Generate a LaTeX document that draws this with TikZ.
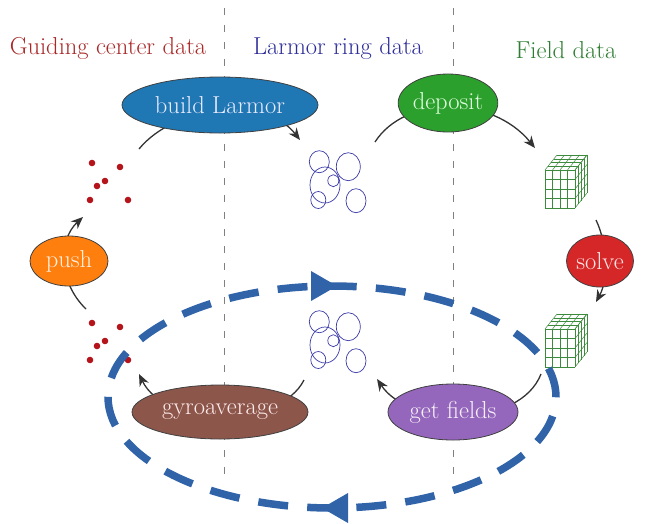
\documentclass[tikz,border=0pt]{standalone}
\usepackage{fontspec}
\usetikzlibrary{shapes.geometric,arrows.meta}
\definecolor{tred}{HTML}{A82828}
\definecolor{tblue}{HTML}{2E2E9A}
\definecolor{tgreen}{HTML}{2E7D32}
\definecolor{fblue}{HTML}{1F77B4}
\definecolor{fgreen}{HTML}{2CA02C}
\definecolor{fred}{HTML}{D62728}
\definecolor{forange}{HTML}{FF7F0E}
\definecolor{fbrown}{HTML}{8C564B}
\definecolor{fpurple}{HTML}{9467BD}
\definecolor{ringblue}{HTML}{3A3AA8}
\definecolor{dotred}{HTML}{B5141B}
\definecolor{cubegreen}{HTML}{3C8A3C}
\definecolor{loopblue}{HTML}{3063A8}
\tikzset{
  gridcube/.pic={
    \begin{scope}[cubegreen, line width=0.5pt]
    \foreach \i in {0,...,4} {
      \draw (\i*7.5,0) -- (\i*7.5,38);
      \draw (0,\i*9.5) -- (30,\i*9.5);
      \draw (\i*7.5,0) -- (\i*7.5+12,-15);
      \draw (\i*3,-\i*3.75) -- (30+\i*3,-\i*3.75);
      \draw (30+\i*3,-\i*3.75) -- (30+\i*3,38-\i*3.75);
      \draw (30,\i*9.5) -- (42,\i*9.5-15);
    }
    \end{scope}
  },
  ringset/.pic={
    \begin{scope}[ringblue, line width=0.7pt]
    \draw (-13.7,-16.3) ellipse [x radius=10pt, y radius=11pt];
    \draw (15.3,-11.3) ellipse [x radius=12pt, y radius=14pt];
    \draw (-8,7) ellipse [x radius=15pt, y radius=18pt];
    \draw (0.3,2.7) ellipse [x radius=5.5pt, y radius=6pt];
    \draw (-14.7,22) ellipse [x radius=7.5pt, y radius=8.5pt];
    \draw (23,22.7) ellipse [x radius=10pt, y radius=12pt];
    \end{scope}
  },
  dotset/.pic={
    \begin{scope}[dotred]
    \foreach \p in {(-16,-18),(12,-14),(-3,0),(-11,5),(-18,19),(20,19)}
      \fill \p circle [radius=3.3pt];
    \end{scope}
  }
}
\begin{document}
\begin{tikzpicture}[x=1pt,y=-1pt,
  proc/.style={ellipse, draw=black!75, line width=0.8pt, inner sep=0pt,
    font=\fontsize{24.5}{29}\selectfont},
  title/.style={font=\fontsize{24.5}{29}\selectfont, inner sep=0pt},
  conn/.style={draw=black!80, line width=1.3pt, -{Stealth[length=12pt,width=10pt]}},
  sep/.style={draw=black!50, line width=1pt, dash pattern=on 7pt off 10pt}]
\useasboundingbox (0,0) rectangle (645,523);

% separators
\coordinate (s1t) at (224,8); \coordinate (s1b) at (224,476);
\coordinate (s2t) at (453,8); \coordinate (s2b) at (453,476);
\draw[sep] (s1t) -- (s1b);
\draw[sep] (s2t) -- (s2b);

% titles
\node[title, text=tred] (tgc) at (108,48) {Guiding center data};
\node[title, text=tblue] (tlr) at (338,48) {Larmor ring data};
\node[title, text=tgreen] (tfd) at (566,50) {Field data};

% data clusters
\pic (dotsA) at (108,181) {dotset};
\pic (dotsB) at (108,341) {dotset};
\pic (ringsA) at (333,178) {ringset};
\pic (ringsB) at (333,338) {ringset};
\pic (cubeA) at (545,170) {gridcube};
\pic (cubeB) at (545,329) {gridcube};

% connector end points
\coordinate (c1s) at (139,149); \coordinate (c1e) at (300,140);
\coordinate (c2s) at (375,142); \coordinate (c2e) at (535,148);
\coordinate (c3s) at (596,220); \coordinate (c3e) at (596,302);
\coordinate (c4s) at (541,374); \coordinate (c4e) at (377,379);
\coordinate (c5s) at (304,380); \coordinate (c5e) at (139,374);
\coordinate (c6s) at (86,309);  \coordinate (c6e) at (83,217);

\draw[conn] (c1s) .. controls (175,105) and (265,95) .. (c1e);
\draw[conn] (c2s) .. controls (405,95) and (492,95) .. (c2e);
\draw[conn] (c3s) .. controls (608,245) and (608,280) .. (c3e);
\draw[conn] (c4s) .. controls (520,428) and (410,428) .. (c4e);
\draw[conn] (c5s) .. controls (280,428) and (165,428) .. (c5e);
\draw[conn] (c6s) .. controls (58,282) and (58,240) .. (c6e);

% process nodes
\node[proc, fill=fblue, text=blue!8, minimum width=196pt, minimum height=56pt] (build) at (220,105) {build Larmor};
\node[proc, fill=fgreen, text=green!12, minimum width=96pt, minimum height=58pt] (deposit) at (448,103) {deposit};
\node[proc, fill=fred, text=red!10, minimum width=64pt, minimum height=52pt] (solve) at (600,261) {solve};
\node[proc, fill=forange, text=orange!12, minimum width=78pt, minimum height=50pt] (push) at (69,261) {push};
\node[proc, fill=fbrown, text=red!8, minimum width=176pt, minimum height=54pt] (gyro) at (220,412) {gyroaverage};
\node[proc, fill=fpurple, text=violet!6, minimum width=130pt, minimum height=56pt] (getf) at (453,412) {get fields};

% big dashed loop
\draw[loopblue, line width=7.5pt, dash pattern=on 30pt off 19.2pt] (332,397) ellipse [x radius=224pt, y radius=111pt];
\fill[loopblue] (311,271) -- (337,286) -- (311,301) -- cycle;
\fill[loopblue] (348,493) -- (322,508) -- (348,523) -- cycle;
\end{tikzpicture}
\end{document}
